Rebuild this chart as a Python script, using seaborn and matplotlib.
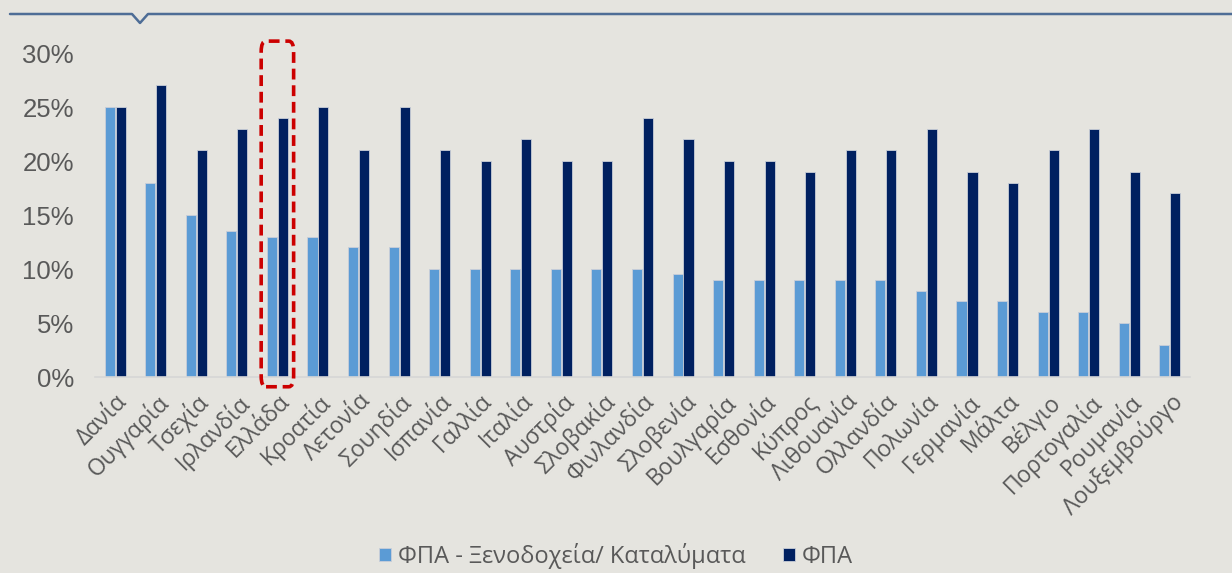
import matplotlib
matplotlib.use("Agg")
import matplotlib.pyplot as plt
import seaborn as sns
import pandas as pd
from matplotlib.patches import FancyBboxPatch
from matplotlib.lines import Line2D

countries = ["Δανία", "Ουγγαρία", "Τσεχία", "Ιρλανδία", "Ελλάδα", "Κροατία", "Λετονία",
             "Σουηδία", "Ισπανία", "Γαλλία", "Ιταλία", "Αυστρία", "Σλοβακία", "Φινλανδία",
             "Σλοβενία", "Βουλγαρία", "Εσθονία", "Κύπρος", "Λιθουανία", "Ολλανδία", "Πολωνία",
             "Γερμανία", "Μάλτα", "Βέλγιο", "Πορτογαλία", "Ρουμανία", "Λουξεμβούργο"]
vat_hotels = [25, 18, 15, 13.5, 13, 13, 12, 12, 10, 10, 10, 10, 10, 10,
              9.5, 9, 9, 9, 9, 9, 8, 7, 7, 6, 6, 5, 3]
vat_standard = [25, 27, 21, 23, 24, 25, 21, 25, 21, 20, 22, 20, 20, 24,
                22, 20, 20, 19, 21, 21, 23, 19, 18, 21, 23, 19, 17]
series_names = ["ΦΠΑ - Ξενοδοχεία/ Καταλύματα", "ΦΠΑ"]
yticks = [0, 5, 10, 15, 20, 25, 30]
highlight = "Ελλάδα"

df = pd.DataFrame({
    "country": countries * 2,
    "value": vat_hotels + vat_standard,
    "series": [series_names[0]] * len(countries) + [series_names[1]] * len(countries),
})

BG = "#E5E4DF"
TXT = "#595959"
sns.set_theme(style="white")
plt.rcParams["font.family"] = ["Liberation Sans", "DejaVu Sans"]
GREEK = ["Open Sans", "DejaVu Sans"]

fig = plt.figure(figsize=(12.32, 5.73), dpi=100, facecolor=BG)
ax = fig.add_axes([0.077, 0.342, 0.889, 0.5655])
ax.set_facecolor(BG)

sns.barplot(data=df, x="country", y="value", hue="series", hue_order=series_names,
            palette=["#5B9BD5", "#002060"], saturation=1, width=0.54, gap=0.08,
            edgecolor="#C9CED8", linewidth=0.6, ax=ax, legend=True)

ax.set_ylim(0, 30)
ax.set_xlim(-0.5, len(countries) - 0.5)
ax.set_yticks(yticks)
ax.set_yticklabels([f"{t}%" for t in yticks], fontsize=18.5, color=TXT)
ax.set_xlabel("")
ax.set_ylabel("")
for s in ["top", "right", "left"]:
    ax.spines[s].set_visible(False)
ax.spines["bottom"].set_color("#D6D6D6")
ax.spines["bottom"].set_linewidth(1.2)
ax.tick_params(axis="y", length=0, pad=15)
ax.tick_params(axis="x", length=0, pad=9)
ax.set_xticks(range(len(countries)))
ax.set_xticklabels(countries, rotation=45, ha="right", rotation_mode="anchor",
                   fontsize=16.5, color=TXT, family=GREEK)

# highlight box around Greece
i = countries.index(highlight)
box = FancyBboxPatch((i - 0.40, -0.9), 0.80, 32.0,
                     boxstyle="round,pad=0,rounding_size=0.12",
                     mutation_aspect=8, fill=False, edgecolor="#CC0000",
                     linewidth=2.6, linestyle=(0, (3, 1.6)), clip_on=False, zorder=5)
ax.add_patch(box)

# legend at bottom
h, l = ax.get_legend_handles_labels()
ax.get_legend().remove()
fig.legend(h, l, loc="center", bbox_to_anchor=(0.5, 0.03), ncol=2, frameon=False,
           prop={"family": GREEK, "size": 17}, labelcolor=TXT, borderpad=0.1,
           handlelength=0.5, handleheight=0.5, handletextpad=0.3, columnspacing=1.6)

# top decorative line with notch
W, H = 1232, 573
xs = [10 / W, 132 / W, 140 / W, 148 / W, 1.0]
ys = [1 - 14 / H, 1 - 14 / H, 1 - 23 / H, 1 - 14 / H, 1 - 14 / H]
fig.add_artist(Line2D(xs, ys, transform=fig.transFigure, color="#4E6D96", linewidth=1.8))

fig.savefig("out.png", dpi=100, facecolor=BG)
